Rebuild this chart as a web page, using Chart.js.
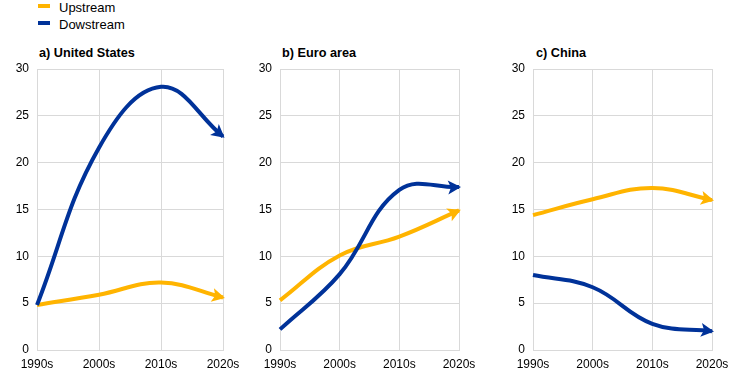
<!DOCTYPE html>
<html>
<head>
<meta charset="utf-8">
<script src="https://cdn.jsdelivr.net/npm/chart.js@4"></script>
<style>
  body { margin: 0; background: #fff; font-family: "Liberation Sans", Arial, sans-serif; }
  #wrap { position: relative; width: 744px; height: 377px; }
  .box { position: absolute; }
  .title { position: absolute; font-size: 12.7px; font-weight: bold; color: #000; }
  .leg { position: absolute; font-size: 13px; color: #000; }
  .sw { position: absolute; width: 12px; height: 4px; }
</style>
</head>
<body>
<div id="wrap">
  <div class="sw" style="left:38px;top:4px;background:#ffb400"></div>
  <div class="leg" style="left:59px;top:0px">Upstream</div>
  <div class="sw" style="left:38px;top:21px;background:#003299"></div>
  <div class="leg" style="left:59px;top:17px">Dowstream</div>

  <div class="title" style="left:39px;top:46px">a) United States</div>
  <div class="title" style="left:282px;top:46px">b) Euro area</div>
  <div class="title" style="left:536px;top:46px">c) China</div>

  <div class="box" style="left:7px;top:61px;width:233px;height:311px"><canvas id="c1"></canvas></div>
  <div class="box" style="left:250px;top:61px;width:226px;height:311px"><canvas id="c2"></canvas></div>
  <div class="box" style="left:503px;top:61px;width:226px;height:311px"><canvas id="c3"></canvas></div>
</div>
<script>
const decades = ["1990s", "2000s", "2010s", "2020s"];
const yTicks = [0, 5, 10, 15, 20, 25, 30];

const usUpstream = [4.8, 5.9, 7.2, 5.6];
const usDownstream = [4.8, 21.6, 28.1, 22.8];
const euUpstream = [5.3, 10.1, 12.1, 14.9];
const euDownstream = [2.2, 8.1, 17.1, 17.4];
const cnUpstream = [14.4, 16.1, 17.3, 16.0];
const cnDownstream = [8.0, 6.7, 2.8, 2.0];

const orange = "#ffb400";
const blue = "#003299";
const gridCol = "#d9d9d9";

// draws an arrow head at the last point of each line
const arrowHeads = {
    id: "arrowHeads",
    afterDatasetsDraw(chart) {
        const ctx = chart.ctx;
        chart.data.datasets.forEach((ds, i) => {
            const pts = chart.getDatasetMeta(i).data;
            const last = pts[pts.length - 1];
            const prev = pts[pts.length - 2];
            const ang = Math.atan2(last.y - prev.y, last.x - prev.x);
            const tx = last.x + Math.cos(ang) * 2;
            const ty = last.y + Math.sin(ang) * 2;
            const len = 13, half = 7;
            ctx.save();
            ctx.translate(tx, ty);
            ctx.rotate(ang);
            ctx.beginPath();
            ctx.moveTo(0, 0);
            ctx.lineTo(-len, -half);
            ctx.lineTo(-len + 3, 0);
            ctx.lineTo(-len, half);
            ctx.closePath();
            ctx.fillStyle = ds.borderColor;
            ctx.fill();
            ctx.restore();
        });
    }
};

function makePanel(id, up, down) {
    new Chart(document.getElementById(id), {
        type: "line",
        data: {
            labels: decades,
            datasets: [
                { label: "Dowstream", data: down, borderColor: blue, backgroundColor: blue },
                { label: "Upstream", data: up, borderColor: orange, backgroundColor: orange }
            ]
        },
        options: {
            responsive: true,
            maintainAspectRatio: false,
            animation: false,
            layout: { padding: { top: 8, right: 17, left: 0, bottom: 0 } },
            elements: {
                line: { borderWidth: 4, tension: 0.4, fill: false },
                point: { radius: 0, hoverRadius: 0 }
            },
            plugins: { legend: { display: false }, tooltip: { enabled: false } },
            scales: {
                x: {
                    offset: false,
                    grid: { color: gridCol, drawTicks: false },
                    border: { color: gridCol },
                    ticks: {
                        color: "#000", padding: 7, maxRotation: 0, autoSkip: false,
                        font: { family: "'Liberation Sans', Arial, sans-serif", size: 12 }
                    },
                    afterFit(s) { s.height = 22; s.paddingLeft = 0; s.paddingRight = 0; }
                },
                y: {
                    min: 0, max: 30,
                    afterBuildTicks(s) { s.ticks = yTicks.map(v => ({ value: v })); },
                    grid: { color: gridCol, drawTicks: false },
                    border: { color: gridCol },
                    ticks: {
                        color: "#000", padding: 8,
                        font: { family: "'Liberation Sans', Arial, sans-serif", size: 12 }
                    },
                    afterFit(s) { s.width = 30; s.paddingTop = 0; s.paddingBottom = 0; }
                }
            }
        },
        plugins: [arrowHeads]
    });
}

makePanel("c1", usUpstream, usDownstream);
makePanel("c2", euUpstream, euDownstream);
makePanel("c3", cnUpstream, cnDownstream);
</script>
</body>
</html>
